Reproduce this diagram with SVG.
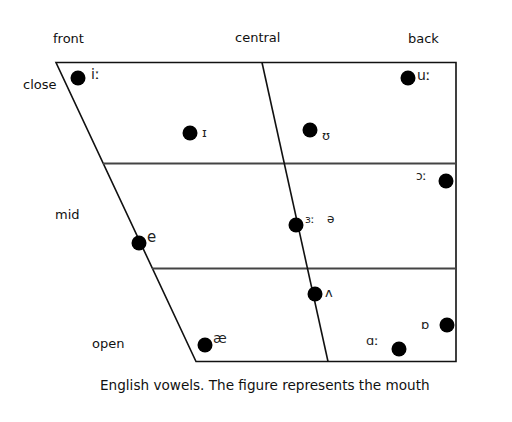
<svg xmlns="http://www.w3.org/2000/svg" width="512" height="422" viewBox="0 0 512 422">
<style>
.lbl{font-family:"DejaVu Sans",Verdana,sans-serif;font-size:13px;fill:#111}
.ipa{font-family:"DejaVu Sans",sans-serif;font-size:13px;fill:#222}
.cap{font-family:"DejaVu Sans",Verdana,sans-serif;font-size:13.6px;fill:#111}
.ln{stroke:#111;stroke-width:1.6;fill:none}
.gl{stroke:#444;stroke-width:1.8;fill:none}
.dot{fill:#000}
</style>
<rect width="512" height="422" fill="#fff"/>
<g id="chart">
<polygon class="ln" points="56,62.5 456,62.5 456,361.5 196,361.5"/>
<line class="gl" x1="103" y1="163.5" x2="456" y2="163.5"/>
<line class="gl" x1="152" y1="268.5" x2="456" y2="268.5"/>
<line class="ln" x1="262" y1="62.5" x2="328" y2="361.5"/>
</g>
<g id="headers">
<text class="lbl" x="53" y="43">front</text>
<text class="lbl" x="235" y="42">central</text>
<text class="lbl" x="408" y="43">back</text>
<text class="lbl" x="23" y="89">close</text>
<text class="lbl" x="55" y="219">mid</text>
<text class="lbl" x="92" y="348">open</text>
</g>
<g id="v-i"><circle class="dot" cx="78" cy="78" r="7.5"/><text class="ipa" x="91" y="79" style="font-size:14px">iː</text></g>
<g id="v-I"><circle class="dot" cx="190" cy="133" r="7.5"/><text class="ipa" x="202" y="137">ɪ</text></g>
<g id="v-u"><circle class="dot" cx="408" cy="78" r="7.5"/><text class="ipa" x="417" y="80" style="font-size:14px">uː</text></g>
<g id="v-U"><circle class="dot" cx="310" cy="130" r="7.5"/><text class="ipa" x="322" y="140">ʊ</text></g>
<g id="v-o"><circle class="dot" cx="446" cy="181" r="7.5"/><text class="ipa" x="416" y="180" style="font-size:12px">ɔː</text></g>
<g id="v-3"><circle class="dot" cx="296" cy="225" r="7.5"/><text class="ipa" x="305" y="223" style="font-size:11px">ɜː</text><text class="ipa" x="327" y="223" style="font-size:12px">ə</text></g>
<g id="v-e"><circle class="dot" cx="139" cy="243" r="7.5"/><text class="ipa" x="147" y="242" style="font-size:15px">e</text></g>
<g id="v-ae"><circle class="dot" cx="205" cy="345" r="7.5"/><text class="ipa" x="213" y="343" style="font-size:14px">æ</text></g>
<g id="v-V"><circle class="dot" cx="315" cy="294" r="7.5"/><text class="ipa" x="325" y="297">ʌ</text></g>
<g id="v-Q"><circle class="dot" cx="447" cy="325" r="7.5"/><text class="ipa" x="421" y="329">ɒ</text></g>
<g id="v-A"><circle class="dot" cx="399" cy="349" r="7.5"/><text class="ipa" x="366" y="345">ɑː</text></g>
<g id="caption"><text class="cap" x="100" y="390">English vowels. The figure represents the mouth</text></g>
</svg>
